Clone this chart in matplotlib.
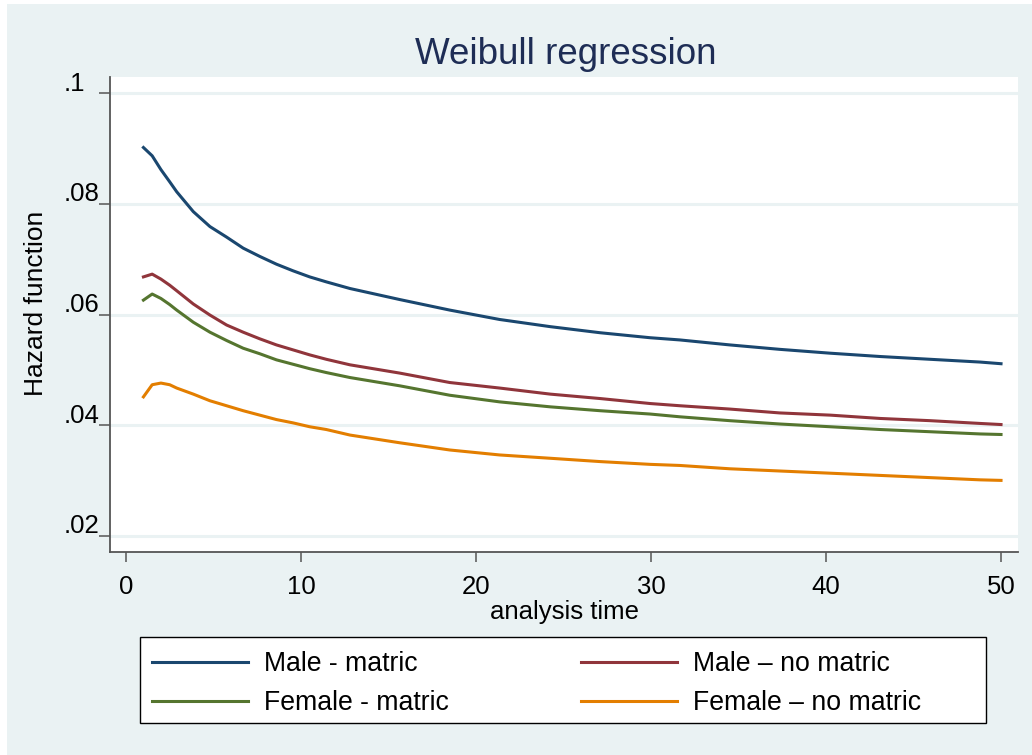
import matplotlib
matplotlib.use("Agg")
import matplotlib.pyplot as plt
import matplotlib.transforms as mtransforms
from matplotlib.patches import Rectangle

# --- Style ---
plt.rcParams['font.family'] = ['Liberation Sans', 'DejaVu Sans']

BG = '#EAF2F3'
GRID = '#EAF2F3'
AXIS = '#555555'
TITLE_COLOR = '#1E2D55'

# --- Data: hazard estimates by group over analysis time ---
time = [1, 1.5, 2, 2.5, 2.9, 3.85, 4.8, 5.75, 6.7, 7.65, 8.6, 9.55, 10.5, 11.45,
        12.8, 15.65, 18.5, 21.35, 24.25, 27.1, 29.95, 31.65, 34.5, 37.35, 40.25,
        43.1, 45.95, 48.8, 50]

male_matric = [.0902, .0887, .0862, .0840, .0822, .0786, .0759, .0740, .0720, .0705,
               .0691, .0679, .0668, .0659, .0647, .0627, .0608, .0591, .0578, .0567,
               .0558, .0554, .0545, .0537, .0530, .0524, .0519, .0514, .0511]
male_no_matric = [.0668, .0673, .0664, .0653, .0643, .0619, .0599, .0581, .0568, .0556,
                  .0545, .0536, .0527, .0519, .0509, .0494, .0477, .0467, .0456, .0448,
                  .0439, .0435, .0429, .0422, .0418, .0412, .0408, .0403, .0401]
female_matric = [.0626, .0637, .0629, .0618, .0608, .0586, .0568, .0553, .0539, .0529,
                 .0518, .0510, .0502, .0495, .0486, .0471, .0454, .0442, .0433, .0426,
                 .0420, .0415, .0408, .0402, .0397, .0392, .0388, .0384, .0383]
female_no_matric = [.0451, .0473, .0476, .0473, .0467, .0456, .0444, .0435, .0426, .0418,
                    .0410, .0404, .0397, .0392, .0382, .0368, .0355, .0346, .0340, .0334,
                    .0329, .0327, .0321, .0317, .0313, .0309, .0305, .0301, .0300]

labels = ['Male - matric', 'Male \u2013 no matric', 'Female - matric', 'Female \u2013 no matric']
colors = ['#1A476F', '#90353B', '#55752F', '#E37E00']

x_ticks = [0, 10, 20, 30, 40, 50]
y_ticks = [.02, .04, .06, .08, .1]
y_tick_labels = ['.02', '.04', '.06', '.08', '.1']

W, H = 1032, 755
fig = plt.figure(figsize=(W / 100, H / 100), dpi=100, facecolor='white')

# graph region (light bluish gray, thin white strip at left/top)
fig.patches.append(Rectangle((7 / W, 0), 1 - 7 / W, 1 - 4 / H, transform=fig.transFigure,
                             facecolor=BG, edgecolor='none', zorder=-5))

ax = fig.add_axes([110 / W, 1 - 552 / H, (1018 - 110) / W, (552 - 77) / H])
ax.set_facecolor('white')

series = [male_matric, male_no_matric, female_matric, female_no_matric]
handles = []
for vals, lab, col in zip(series, labels, colors):
    h, = ax.plot(time, vals, color=col, lw=2.2, label=lab, solid_joinstyle='round')
    handles.append(h)

ax.set_xlim(-0.91, 50.97)
ax.set_ylim(0.01705, 0.10295)

ax.set_xticks(x_ticks)
ax.set_yticks(y_ticks)
ax.set_yticklabels(y_tick_labels)
ax.grid(axis='y', color=GRID, lw=2.2)
ax.set_axisbelow(True)

for side in ['top', 'right']:
    ax.spines[side].set_visible(False)
for side in ['left', 'bottom']:
    ax.spines[side].set_color(AXIS)
    ax.spines[side].set_linewidth(1.3)

ax.tick_params(axis='x', length=7.5, width=1.1, color=AXIS, labelsize=18.5, pad=9)
ax.tick_params(axis='y', length=8, width=1.1, color=AXIS, labelsize=18.5, pad=1.5)

# y labels are left-aligned in a column and sit a little above their ticks
shift = mtransforms.ScaledTranslation(-33 / 100, 12 / 100, fig.dpi_scale_trans)
for lbl in ax.get_yticklabels():
    lbl.set_horizontalalignment('left')
    lbl.set_transform(lbl.get_transform() + shift)

ax.set_xlabel('analysis time', fontsize=18.5, labelpad=1)
ax.set_ylabel('Hazard function', fontsize=19)
ax.yaxis.set_label_coords(-(110 - 48) / (1018 - 110), (552 - 303) / (552 - 77))

fig.text(566 / W, 1 - 64 / H, 'Weibull regression', ha='center', va='baseline',
         fontsize=26.5, color=TITLE_COLOR)

# legend box
fig.patches.append(Rectangle((140 / W, 1 - 723 / H), (986 - 140) / W, (723 - 637) / H,
                             transform=fig.transFigure, facecolor='white',
                             edgecolor='black', lw=1.0, zorder=1))
# legend fills column by column: male rows on top, female rows below
order = [0, 2, 1, 3]
leg = fig.legend(handles=[handles[i] for i in order],
                 labels=[labels[i] for i in order],
                 ncol=2, frameon=False, fontsize=19.2,
                 loc='upper left', bbox_to_anchor=(152 / W, 1 - 651 / H),
                 borderaxespad=0, borderpad=0, handlelength=3.6, handletextpad=0.6,
                 columnspacing=4.95, labelspacing=0.5)
leg.set_zorder(2)

fig.savefig('out.png', dpi=100)
